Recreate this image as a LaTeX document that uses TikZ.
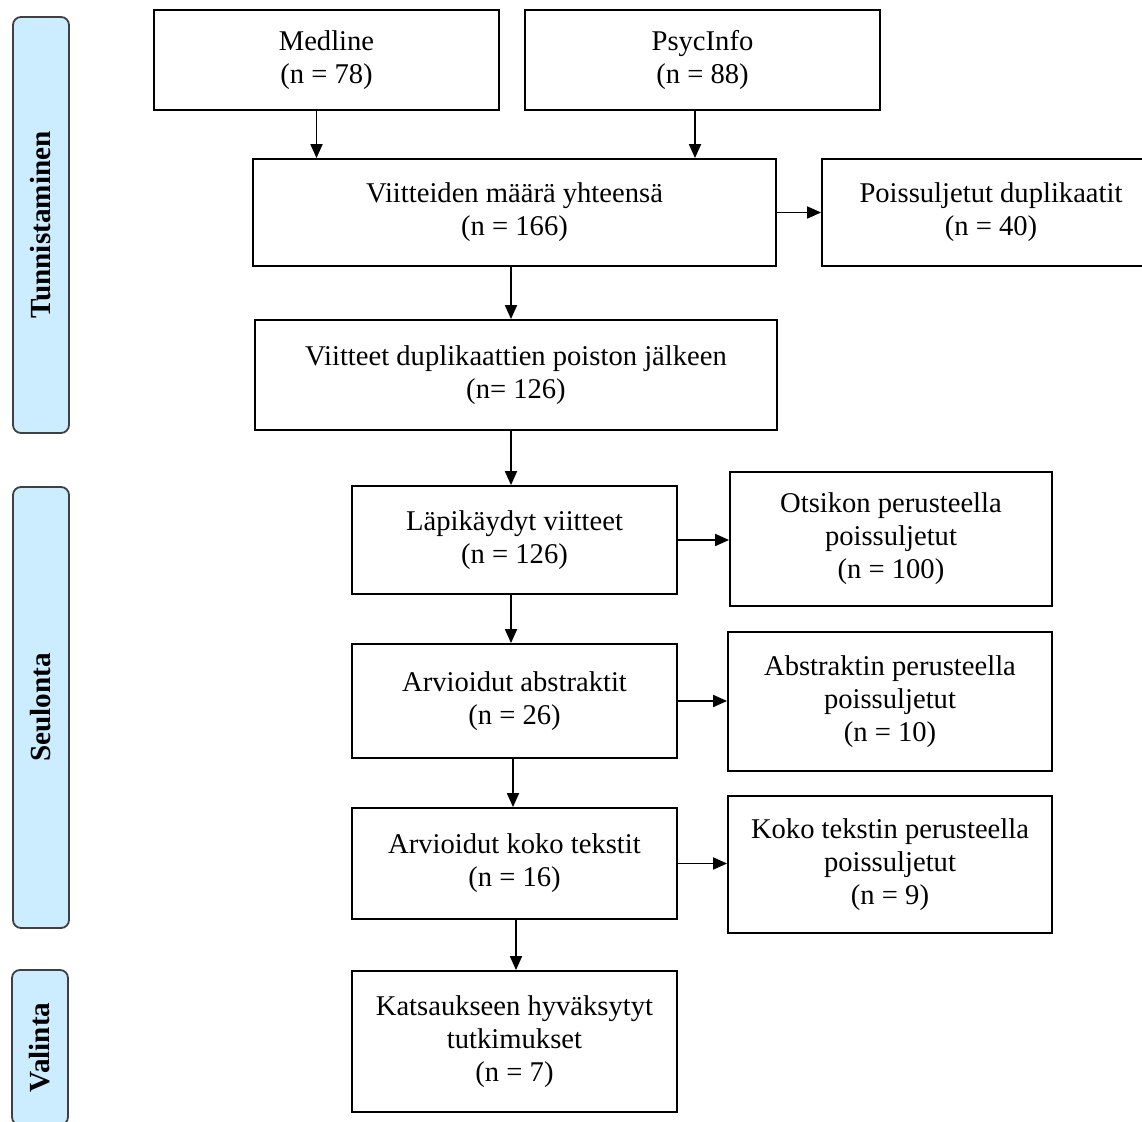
\documentclass[tikz,border=0pt]{standalone}
\usepackage{fontspec}
\setmainfont{Liberation Serif}
\usetikzlibrary{arrows.meta}
\definecolor{phaseblue}{RGB}{204,236,255}

\begin{document}
\begin{tikzpicture}[x=0.5pt, y=-0.5pt,
  box/.style={draw, line width=0.9pt, align=center, inner sep=0pt,
    font=\fontsize{14.3}{16.5}\selectfont},
  phasebox/.style={draw=black!75, fill=phaseblue, line width=0.9pt, rounded corners=4pt,
    rotate=90, inner sep=0pt, minimum height=28pt,
    font=\fontsize{14.6}{16.5}\selectfont\bfseries},
  flow/.style={line width=0.9pt, -{Triangle[length=7pt, width=6pt]}}]
  \useasboundingbox (0,0) rectangle (1142,1122);
  \clip (0,0) rectangle (1142,1122);

  \node[phasebox, minimum width=208pt] (tunn) at (41,225) {Tunnistaminen};
  \node[phasebox, minimum width=220.5pt] (seul) at (41,707.5) {Seulonta};
  \node[phasebox, minimum width=77.5pt] (vali) at (40,1047.5) {Valinta};

  \node[box, minimum width=172.5pt, minimum height=50pt] (medline) at (326.5,60) {Medline\\(n = 78)};
  \node[box, minimum width=177.5pt, minimum height=50pt] (psyc) at (702.5,60) {PsycInfo\\(n = 88)};
  \node[box, minimum width=261.5pt, minimum height=53.5pt] (total) at (514.5,212.5) {Viitteiden määrä yhteensä\\(n = 166)};
  \node[box, minimum width=169pt, minimum height=53.5pt] (dupl) at (991,212.5) {Poissuljetut duplikaatit\\(n = 40)};
  \node[box, minimum width=261pt, minimum height=55pt] (after) at (516,375) {Viitteet duplikaattien poiston jälkeen\\(n= 126)};

  \node[box, minimum width=162.5pt, minimum height=54pt] (screened) at (514.5,540) {Läpikäydyt viitteet\\(n = 126)};
  \node[box, minimum width=161pt, minimum height=67pt] (extitle) at (891,539) {Otsikon perusteella\\poissuljetut\\(n = 100)};
  \node[box, minimum width=162.5pt, minimum height=57pt] (abstr) at (514.5,701) {Arvioidut abstraktit\\(n = 26)};
  \node[box, minimum width=162pt, minimum height=69.5pt] (exabs) at (890,701.5) {Abstraktin perusteella\\poissuljetut\\(n = 10)};
  \node[box, minimum width=162.5pt, minimum height=55.5pt] (fulltxt) at (514.5,863.5) {Arvioidut koko tekstit\\(n = 16)};
  \node[box, minimum width=162pt, minimum height=68.5pt] (exfull) at (890,864.5) {Koko tekstin perusteella\\poissuljetut\\(n = 9)};
  \node[box, minimum width=162.5pt, minimum height=70.5pt] (incl) at (514.5,1041.5) {Katsaukseen hyväksytyt\\tutkimukset\\(n = 7)};

  \draw[flow] ([xshift=-5pt]medline.south) -- ([xshift=-5pt]medline.south |- total.north);
  \draw[flow] ([xshift=-3.75pt]psyc.south) -- ([xshift=-3.75pt]psyc.south |- total.north);
  \draw[flow] (total.east) -- (total.east -| dupl.west);
  \draw[flow] ([xshift=-1.75pt]total.south) -- ([xshift=-1.75pt]total.south |- after.north);
  \draw[flow] ([xshift=-2.5pt]after.south) -- ([xshift=-2.5pt]after.south |- screened.north);
  \draw[flow] (screened.east) -- (screened.east -| extitle.west);
  \draw[flow] ([xshift=-1.75pt]screened.south) -- ([xshift=-1.75pt]abstr.north);
  \draw[flow] (abstr.east) -- (abstr.east -| exabs.west);
  \draw[flow] ([xshift=-0.75pt]abstr.south) -- ([xshift=-0.75pt]fulltxt.north);
  \draw[flow] (fulltxt.east) -- (fulltxt.east -| exfull.west);
  \draw[flow] ([xshift=0.75pt]fulltxt.south) -- ([xshift=0.75pt]incl.north);
\end{tikzpicture}
\end{document}
